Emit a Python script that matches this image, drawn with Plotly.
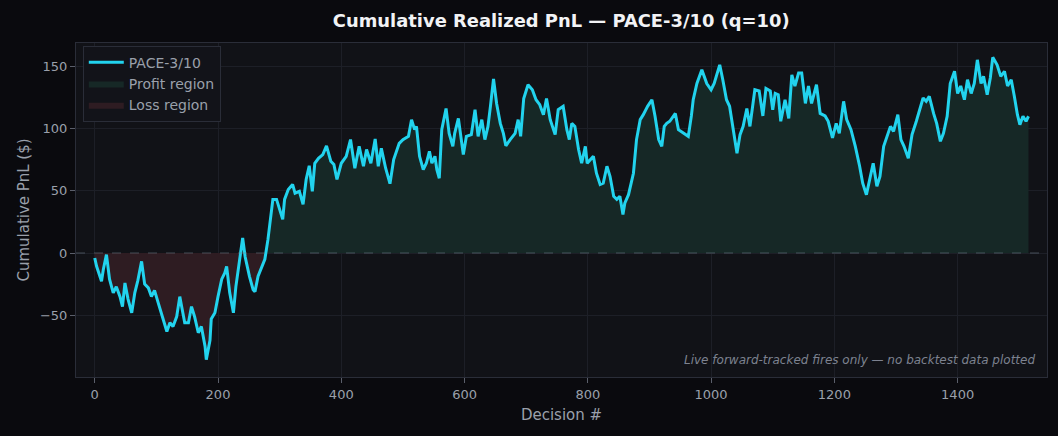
import plotly.graph_objects as go

decisions = [0, 3, 11, 14, 19, 24, 30, 35, 41, 45, 49, 54, 60, 65, 70, 76, 81, 87, 92, 97,
             103, 108, 114, 117, 122, 127, 133, 138, 141, 146, 152, 157, 162, 168, 173, 179, 181, 187, 189, 195,
             200, 206, 211, 214, 219, 225, 229, 234, 240, 244,
             246, 251, 257, 260, 265, 271, 276, 281, 285, 289, 295, 300, 305, 308, 314, 321, 325, 332, 338, 343,
             348, 353, 357, 363, 370, 376, 383, 388, 393, 400, 408, 415, 422, 429, 436, 441, 448, 455, 460, 465,
             472, 479, 485, 494,
             500, 509, 514, 519, 522, 527, 533, 538, 543, 547, 552, 555, 559, 563, 570, 575, 581, 584, 590, 598,
             603, 611, 617, 622, 628, 633, 638, 642, 647, 652, 658, 663, 667, 674, 682, 687, 691, 696, 703, 710,
             716, 722, 728, 733, 739, 747, 752, 760,
             766, 770, 774, 779, 785, 790, 796, 799, 804, 809, 814, 820, 825, 831, 836, 842, 847, 852, 857, 860,
             866, 870, 874, 879, 885, 890, 897, 904, 909, 915, 920, 924, 928, 933, 942, 947, 955, 963, 968, 971,
             977, 985, 993, 1000, 1005, 1014, 1019, 1025, 1030,
             1035, 1042, 1047, 1052, 1058, 1063, 1068, 1071, 1078, 1084, 1089, 1096, 1100, 1104, 1109, 1113, 1120,
             1126, 1131, 1136, 1142, 1147, 1153, 1158, 1163, 1171, 1177, 1185, 1190, 1197, 1203, 1208, 1215, 1220,
             1227, 1234, 1241, 1246, 1252, 1257, 1263, 1269, 1274,
             1280, 1285, 1291, 1296, 1303, 1308, 1313, 1320, 1326, 1333, 1338, 1344, 1349, 1354, 1361, 1366, 1372,
             1377, 1383, 1388, 1395, 1400, 1405, 1411, 1416, 1422, 1427, 1432, 1438, 1442, 1448, 1453, 1457, 1464,
             1470, 1476, 1481, 1487, 1492, 1497, 1501, 1506, 1511, 1515]

pnl = [-4, -10.7, -22.7, -13, -1.3, -21, -32, -27, -35, -43, -24, -37, -48, -32, -22, -6.7, -25, -28, -35, -30,
       -40, -48, -59, -63, -56, -59, -51, -35, -43, -56, -56, -43, -51, -64, -59, -75, -85.6, -70, -53, -48,
       -35, -21, -16, -10.7, -32, -48, -27, -8, 12, -3,
       -8, -18.7, -29.4, -31, -18.7, -10.7, -5, 10.7, 25, 43, 43, 35, 27, 43, 51, 55, 48, 49.5, 39, 59,
       70, 49.5, 72, 76, 79, 86, 73.6, 71, 59, 72, 77.6, 91, 68, 85.6, 69.6, 83, 72, 91.5, 69.6, 84,
       68, 55.6, 75, 88,
       91, 93.6, 107, 99, 101.6, 77.6, 67, 72, 81.6, 72, 77.6, 67, 60, 99, 116, 96, 85.6, 96, 108, 79,
       93.6, 95, 115, 93.6, 107, 91, 101.6, 117.7, 139.6, 120, 104, 96, 86, 91, 96, 107, 93.6, 124, 135, 131,
       123, 119, 111, 124, 107, 95, 115, 117.7,
       99, 91, 104, 101.6, 83, 72, 85.6, 72, 75, 77.6, 64, 55, 56, 69.6, 61.5, 45.5, 43, 45.5, 30.8, 40,
       46.8, 56, 64, 91, 107, 111, 117.7, 123, 110, 91, 85.6, 101.6, 104, 105.7, 112, 99, 96, 93.6, 110, 123,
       136, 147, 136, 131, 136, 151, 139, 123, 117.7,
       101.6, 80, 95, 101.6, 116, 101.6, 120, 131, 130, 110, 132, 130, 115, 128, 127, 105.7, 123,
       108, 143, 134, 144.5, 144.5, 120, 134, 120, 135, 112, 110, 105.7, 92.3, 104, 96, 121.7, 107,
       99, 85.6, 69.6, 56, 46.8, 59, 72, 53.5, 61.5,
       85.6, 93.6, 101.6, 97.6, 111, 91, 85.6, 76, 95, 105.7, 113.7, 124.4, 121.7, 125.7, 112, 104, 89.6,
       96, 109.7, 136, 145.8, 128, 134, 123, 139, 128, 136, 155, 136, 141.8, 127, 140.4, 157, 151,
       141.8, 145.8, 134, 139, 125.7, 111, 103, 109.7, 105.7, 109.7]

x_ticks = [0, 200, 400, 600, 800, 1000, 1200, 1400]
y_ticks = [-50, 0, 50, 100, 150]

profit = [max(v, 0) for v in pnl]
loss = [min(v, 0) for v in pnl]

FONT = "DejaVu Sans"
TXT = "#9aa0ab"
GRID = "#1d1f27"
SPINE = "#2a2d38"

fig = go.Figure()
fig.add_trace(go.Scatter(x=decisions, y=profit, mode="lines", fill="tozeroy", legendrank=2,
                         line=dict(width=0, color="rgba(52,211,153,0.5)"),
                         fillcolor="rgba(22,40,38,1)", name="Profit region", hoverinfo="skip"))
fig.add_trace(go.Scatter(x=decisions, y=loss, mode="lines", fill="tozeroy", legendrank=3,
                         line=dict(width=0, color="rgba(239,68,68,0.5)"),
                         fillcolor="rgba(46,28,34,1)", name="Loss region", hoverinfo="skip"))
fig.add_trace(go.Scatter(x=decisions, y=pnl, mode="lines", name="PACE-3/10", legendrank=1,
                         line=dict(color="#22d3ee", width=3)))

fig.add_shape(type="line", xref="paper", x0=0, x1=1, yref="y", y0=0, y1=0,
              line=dict(color="rgba(110,125,140,0.55)", width=1, dash="dash"), layer="above")

fig.add_annotation(xref="paper", yref="paper", x=0.99, y=0.025, xanchor="right", yanchor="bottom",
                   text="<i>Live forward-tracked fires only — no backtest data plotted</i>",
                   showarrow=False, font=dict(family=FONT, size=12, color="#7d8290"))

fig.update_layout(
    width=1058, height=436,
    margin=dict(l=76, r=11, t=43, b=59),
    paper_bgcolor="#0a0a0e",
    plot_bgcolor="#111217",
    font=dict(family=FONT, size=13, color=TXT),
    title=dict(text="<b>Cumulative Realized PnL — PACE-3/10 (q=10)</b>", x=0.5305, xanchor="center",
               y=0.952, yanchor="middle", font=dict(family=FONT, size=17.9, color="#f2f3f5")),
    showlegend=True,
    legend=dict(x=0.007, y=0.992, xanchor="left", yanchor="top", traceorder="normal",
                bgcolor="#121319", bordercolor=SPINE, borderwidth=1,
                font=dict(family=FONT, size=14, color=TXT), itemwidth=35, tracegroupgap=0),
)
fig.update_xaxes(range=[-30.4, 1545], tickvals=x_ticks, showgrid=True, gridcolor=GRID, gridwidth=1,
                 zeroline=False, showline=True, linecolor=SPINE, mirror=True,
                 ticks="outside", ticklen=5, tickcolor="#5b5f6b",
                 tickfont=dict(family=FONT, size=13, color=TXT),
                 title=dict(text="Decision #", standoff=8, font=dict(family=FONT, size=15, color=TXT)))
fig.update_yaxes(range=[-99.5, 168.5], tickvals=y_ticks, showgrid=True, gridcolor=GRID, gridwidth=1,
                 zeroline=False, showline=True, linecolor=SPINE, mirror=True,
                 ticks="outside", ticklen=5, tickcolor="#5b5f6b",
                 tickfont=dict(family=FONT, size=13, color=TXT),
                 title=dict(text="Cumulative PnL ($)", standoff=6, font=dict(family=FONT, size=15, color=TXT)))

fig.write_html("out.html")
